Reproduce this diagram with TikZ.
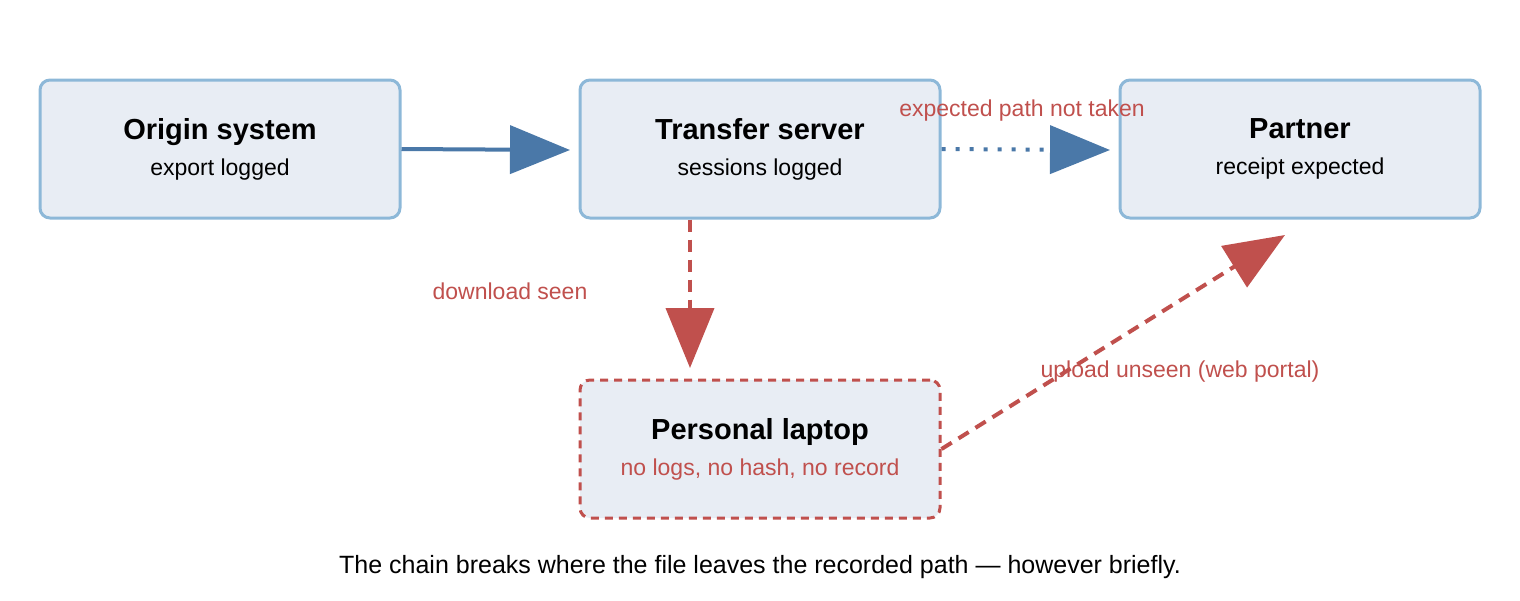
\documentclass[tikz,border=0pt]{standalone}
\usepackage{fontspec}
\setmainfont{Liberation Sans}
\usetikzlibrary{arrows.meta}
\definecolor{boxfill}{HTML}{E8EDF4}
\definecolor{boxline}{HTML}{8DB8D8}
\definecolor{flowblue}{HTML}{4A78A8}
\definecolor{flowred}{HTML}{C0504D}
\tikzset{
  box/.style={draw=boxline,line width=1.5pt,fill=boxfill,rounded corners=5pt,minimum width=180pt,minimum height=69pt,align=center},
  redbox/.style={box,draw=flowred,dashed,dash pattern=on 4pt off 3pt},
  bigtip/.style={-{Triangle[length=30pt,width=24pt]},line width=2pt},
  note/.style={text=flowred,font=\fontsize{11.5}{13}\selectfont}
}
\newcommand{\boxtext}[2]{{\fontsize{14.5}{17}\selectfont\bfseries #1}\\[6pt]{\fontsize{11.5}{13}\selectfont #2}}
\begin{document}
\begin{tikzpicture}[x=0.5pt,y=-0.5pt]
  \useasboundingbox (0,0) rectangle (1520,600);
  % nodes
  \node[box] (origin) at (220,149) {\boxtext{Origin system}{export logged}};
  \node[box] (transfer) at (760,149) {\boxtext{Transfer server}{sessions logged}};
  \node[box] (partner) at (1300,149) {\boxtext{Partner}{receipt expected}};
  \node[redbox] (laptop) at (760,449) {\boxtext{Personal laptop}{\textcolor{flowred}{no logs, no hash, no record}}};
  \coordinate (tin) at (570,150);
  \coordinate (pin) at (1110,150);
  \coordinate (lin) at (690,368);
  \coordinate (pbot) at (1285,235);
  % connectors
  \draw[bigtip,flowblue] (origin.east) -- (tin);
  \draw[bigtip,flowblue,dash pattern=on 2pt off 5pt] (transfer.east) -- (pin);
  \draw[bigtip,flowred,dash pattern=on 6pt off 4pt] (transfer.south -| lin) -- (lin);
  \draw[bigtip,flowred,dash pattern=on 6pt off 4pt] (laptop.east) -- (pbot);
  % labels
  \node[note] (lbla) at (1022,111) {expected path not taken};
  \node[note] (lblb) at (510,291) {download seen};
  \node[note] (lblc) at (1180,372) {upload unseen (web portal)};
  \node[font=\fontsize{12.5}{14}\selectfont] (caption) at (760,567) {The chain breaks where the file leaves the recorded path — however briefly.};
\end{tikzpicture}
\end{document}
